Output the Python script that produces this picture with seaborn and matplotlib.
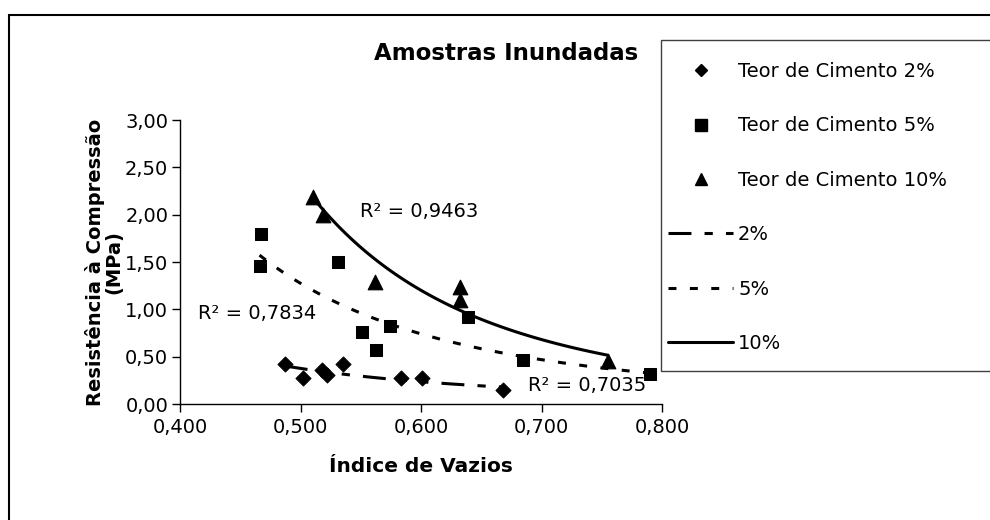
import numpy as np
import pandas as pd
import seaborn as sns
import matplotlib.pyplot as plt
from matplotlib.lines import Line2D
from matplotlib.patches import Rectangle

# dados
x_2 = [0.487, 0.502, 0.518, 0.522, 0.535, 0.583, 0.601, 0.668]
y_2 = [0.42, 0.27, 0.36, 0.31, 0.42, 0.27, 0.27, 0.15]
x_5 = [0.467, 0.466, 0.531, 0.551, 0.574, 0.563, 0.639, 0.685, 0.790]
y_5 = [1.80, 1.46, 1.50, 0.76, 0.82, 0.57, 0.92, 0.46, 0.32]
x_10 = [0.510, 0.519, 0.562, 0.632, 0.632, 0.755]
y_10 = [2.19, 2.00, 1.29, 1.24, 1.10, 0.45]

r2_labels = ['R² = 0,7035', 'R² = 0,7834', 'R² = 0,9463']
x_ticks = [0.4, 0.5, 0.6, 0.7, 0.8]
x_tick_labels = ['0,400', '0,500', '0,600', '0,700', '0,800']
y_ticks = [0, 0.5, 1.0, 1.5, 2.0, 2.5, 3.0]
y_tick_labels = ['0,00', '0,50', '1,00', '1,50', '2,00', '2,50', '3,00']

sns.set_style('white')
plt.rcParams['font.family'] = ['DejaVu Sans']
plt.rcParams['text.color'] = 'black'
plt.rcParams['xtick.color'] = 'black'
plt.rcParams['ytick.color'] = 'black'
FS = 14

fig = plt.figure(figsize=(9.9, 5.2), dpi=100)
ax = fig.add_axes([180/990, 1-404/520, 482/990, 284/520])


def trend(xs, ys):
    # linha de tendencia de potencia (estilo excel)
    b, a = np.polyfit(np.log(xs), np.log(ys), 1)
    xx = np.linspace(min(xs), max(xs), 100)
    return pd.DataFrame({'x': xx, 'y': np.exp(a) * xx ** b})


ls2 = (0, (7.5, 4.3, 2.7, 4.3, 2.7, 4.3))
ls5 = (0, (2.6, 4.4))
lw = 2.2
t2 = trend(x_2, y_2)
t5 = trend(x_5, y_5)
t10 = trend(x_10, y_10)
sns.lineplot(data=t2, x='x', y='y', color='black', lw=lw, ax=ax)
ax.lines[-1].set_linestyle(ls2)
sns.lineplot(data=t5, x='x', y='y', color='black', lw=lw, ax=ax)
ax.lines[-1].set_linestyle(ls5)
sns.lineplot(data=t10, x='x', y='y', color='black', lw=lw, ax=ax)

sns.scatterplot(x=x_2, y=y_2, marker='D', s=60, color='black', edgecolor='black', ax=ax, clip_on=False, zorder=3)
sns.scatterplot(x=x_5, y=y_5, marker='s', s=85, color='black', edgecolor='black', ax=ax, clip_on=False, zorder=3)
sns.scatterplot(x=x_10, y=y_10, marker='^', s=110, color='black', edgecolor='black', ax=ax, clip_on=False, zorder=3)

ax.set_xlim(0.4, 0.8)
ax.set_ylim(0, 3)
ax.set_xticks(x_ticks)
ax.set_xticklabels(x_tick_labels, fontsize=FS)
ax.set_yticks(y_ticks)
ax.set_yticklabels(y_tick_labels, fontsize=FS)
ax.set_xlabel('')
ax.set_ylabel('')
ax.tick_params(axis='both', direction='out', length=6, width=1, color='black',
               labelcolor='black', left=True, bottom=True)
ax.tick_params(axis='y', pad=2.5)
ax.tick_params(axis='x', pad=4)
for s in ['top', 'right']:
    ax.spines[s].set_visible(False)
for s in ['left', 'bottom']:
    ax.spines[s].set_color('black')
    ax.spines[s].set_linewidth(1)
ax.patch.set_alpha(0)

# textos R2
ax.text(0.689, 0.20, r2_labels[0], fontsize=FS, ha='left', va='center')
ax.text(0.415, 0.96, r2_labels[1], fontsize=FS, ha='left', va='center')
ax.text(0.549, 2.03, r2_labels[2], fontsize=FS, ha='left', va='center')

fig.text(506/990, 1-53/520, 'Amostras Inundadas', fontsize=16.5, fontweight='bold', ha='center', va='center')
fig.text(421/990, 1-466/520, 'Índice de Vazios', fontsize=14.5, fontweight='bold', ha='center', va='center')
fig.text(104/990, 1-262/520, 'Resistência à Compressão\n(MPa)', fontsize=14, fontweight='bold',
         ha='center', va='center', rotation=90, multialignment='center', linespacing=0.92)

# moldura externa
fig.patches.append(Rectangle((9/990, -0.2), 1.5, 0.2 + 1-15/520, transform=fig.transFigure,
                             fill=False, edgecolor='black', lw=1.5, clip_on=False))
# moldura da legenda
fig.patches.append(Rectangle((661/990, 1-371/520), 0.5, 331/520, transform=fig.transFigure,
                             facecolor='white', edgecolor='#404040', lw=1, zorder=5))

handles = [
    Line2D([], [], marker='D', color='black', ls='none', markersize=6.5),
    Line2D([], [], marker='s', color='black', ls='none', markersize=8),
    Line2D([], [], marker='^', color='black', ls='none', markersize=9),
    Line2D([], [], color='black', lw=lw, ls=ls2),
    Line2D([], [], color='black', lw=lw, ls=ls5),
    Line2D([], [], color='black', lw=lw),
]
labels = ['Teor de Cimento 2%', 'Teor de Cimento 5%', 'Teor de Cimento 10%', '2%', '5%', '10%']
leg = fig.legend(handles, labels, loc='upper left', bbox_to_anchor=(668/990, 1-62/520),
                 frameon=False, fontsize=FS, handlelength=3.35, handletextpad=0.25,
                 labelspacing=1.82, borderpad=0, borderaxespad=0)
leg.set_zorder(6)

fig.savefig('out.png', dpi=100)
